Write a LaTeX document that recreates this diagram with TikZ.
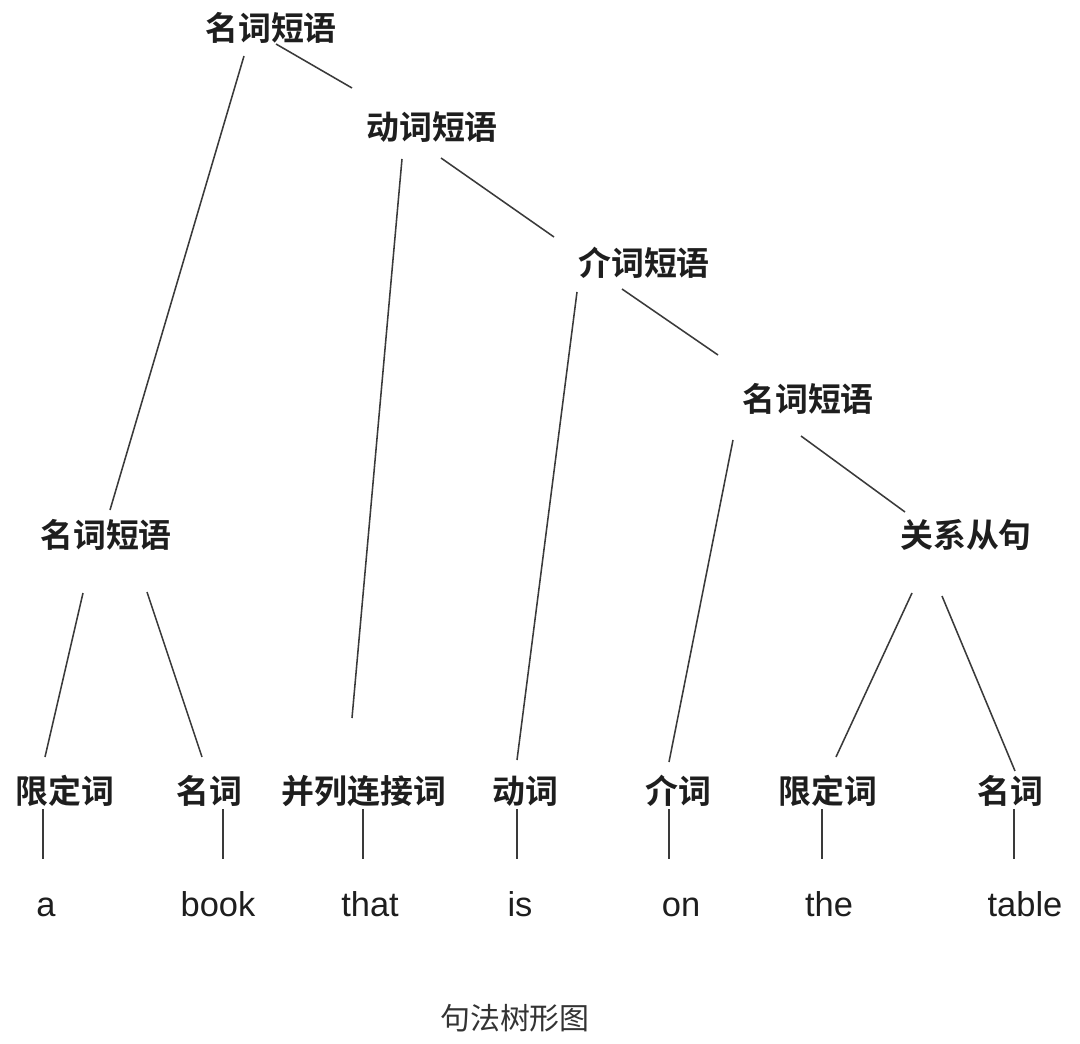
\documentclass[tikz,border=0pt]{standalone}
\usepackage{fontspec}
\setmainfont{Liberation Sans}
\newfontfamily\cjkbold{Noto Sans CJK SC Bold}
\newfontfamily\cjkreg{Noto Sans CJK SC}
\usepackage{tikz}

\definecolor{inkgray}{HTML}{1E1E1E}
\definecolor{linegray}{HTML}{3A3A3A}
\definecolor{capgray}{HTML}{333333}

\tikzset{
  phrase/.style={font=\cjkbold\fontsize{23.4}{28}\selectfont, text=inkgray,
    text height=19.4pt, text depth=1.6pt, inner sep=0pt, anchor=center},
  word/.style={font=\fontsize{24.5}{29}\selectfont, text=inkgray,
    inner sep=0pt, anchor=base},
  branch/.style={draw=linegray, line width=1.1pt}
}

\begin{document}
\begin{tikzpicture}[x=0.025cm, y=-0.025cm]
    \useasboundingbox (0,0) rectangle (1080,1044);

    % draw phrase nodes
    \node[phrase] (np0) at (271,28) {名词短语};
    \node[phrase] (vp)  at (432,127) {动词短语};
    \node[phrase] (pp)  at (644,263) {介词短语};
    \node[phrase] (np2) at (808,399) {名词短语};
    \node[phrase] (np1) at (106,535) {名词短语};
    \node[phrase] (rc)  at (966,535) {关系从句};

    % draw part of speech nodes
    \node[phrase] (dt1) at (65,791)   {限定词};
    \node[phrase] (nn1) at (209,791)  {名词};
    \node[phrase] (cc)  at (364,791)  {并列连接词};
    \node[phrase] (vb)  at (525,791)  {动词};
    \node[phrase] (in)  at (678,791)  {介词};
    \node[phrase] (dt2) at (828,791)  {限定词};
    \node[phrase] (nn2) at (1010,791) {名词};

    % draw words
    \node[word] (a)     at (46,916)   {a};
    \node[word] (book)  at (218,916)  {book};
    \node[word] (that)  at (370,916)  {that};
    \node[word] (is)    at (520,916)  {is};
    \node[word] (on)    at (681,916)  {on};
    \node[word] (the)   at (829,916)  {the};
    \node[word] (table) at (1025,916) {table};

    % draw branches
    \draw[branch] ([shift={(-27,28)}]np0.center) -- ([shift={(4,-25)}]np1.center);
    \draw[branch] ([shift={(5,16)}]np0.center) -- ([shift={(-80,-39)}]vp.center);
    \draw[branch] ([shift={(-30,32)}]vp.center) -- ([shift={(-12,-73)}]cc.center);
    \draw[branch] ([shift={(9,31)}]vp.center) -- ([shift={(-90,-26)}]pp.center);
    \draw[branch] ([shift={(-67,29)}]pp.center) -- ([shift={(-8,-31)}]vb.center);
    \draw[branch] ([shift={(-22,26)}]pp.center) -- ([shift={(-90,-44)}]np2.center);
    \draw[branch] ([shift={(-75,41)}]np2.center) -- ([shift={(-9,-29)}]in.center);
    \draw[branch] ([shift={(-7,37)}]np2.center) -- ([shift={(-61,-23)}]rc.center);
    \draw[branch] ([shift={(-23,58)}]np1.center) -- ([shift={(-20,-34)}]dt1.center);
    \draw[branch] ([shift={(41,57)}]np1.center) -- ([shift={(-7,-34)}]nn1.center);
    \draw[branch] ([shift={(-54,58)}]rc.center) -- ([shift={(8,-34)}]dt2.center);
    \draw[branch] ([shift={(-24,61)}]rc.center) -- ([shift={(5,-20)}]nn2.center);

    % draw vertical lines down to the words
    \foreach \p/\dx in {dt1/-22, nn1/14, cc/-1, vb/-8, in/-9, dt2/-6, nn2/4}
      \draw[branch] ([shift={(\dx,18)}]\p.center) -- ++(0,50);

    % draw caption
    \node[font=\cjkreg\fontsize{21.3}{26}\selectfont, text=capgray] (cap) at (515,1018) {句法树形图};
\end{tikzpicture}
\end{document}
